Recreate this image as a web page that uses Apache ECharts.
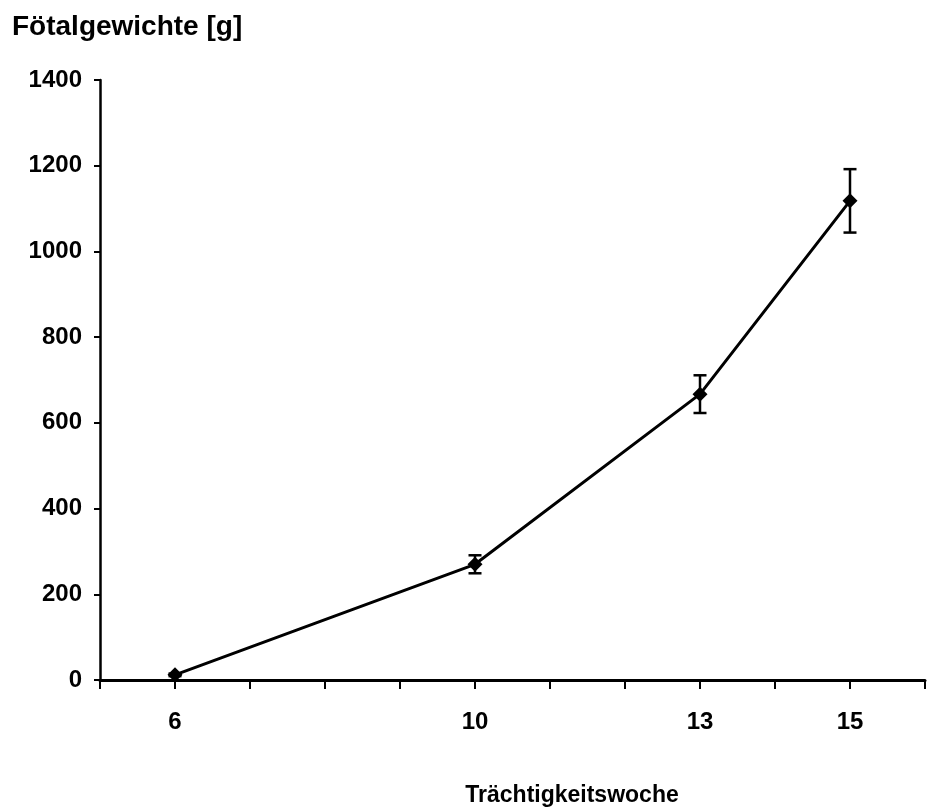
<!DOCTYPE html>
<html>
<head>
<meta charset="utf-8">
<script src="https://cdn.jsdelivr.net/npm/echarts@6/dist/echarts.min.js"></script>
<style>
  html, body { margin: 0; padding: 0; background: #fff; }
  #chart { width: 928px; height: 810px; }
</style>
</head>
<body>
<div id="chart"></div>
<script>
// Fetal weight by week of gestation (mean ± SD)
const weeks = [6, 10, 13, 15];
const meanWeight = [12, 270, 667, 1118];
const sdWeight = [3, 21, 44, 74];
const labelledWeeks = [6, 10, 13, 15];
const yTicks = [0, 200, 400, 600, 800, 1000, 1200, 1400];

const FONT = '"Liberation Sans", Arial, sans-serif';

const chart = echarts.init(document.getElementById('chart'));

const points = weeks.map((w, i) => [w, meanWeight[i]]);
const errData = weeks.map((w, i) => [w, meanWeight[i] - sdWeight[i], meanWeight[i] + sdWeight[i]]);

chart.setOption({
  animation: false,
  backgroundColor: '#ffffff',
  grid: { left: 100, right: -4, top: 80, bottom: 130, containLabel: false },
  graphic: [
    {
      type: 'text', x: 12, y: 27,
      style: {
        text: 'Fötalgewichte [g]', font: 'bold 28px ' + FONT, fill: '#000',
        textAlign: 'left', textVerticalAlign: 'middle'
      }
    },
    {
      type: 'text', x: 572, y: 796,
      style: {
        text: 'Trächtigkeitswoche', font: 'bold 23px ' + FONT, fill: '#000',
        textAlign: 'center', textVerticalAlign: 'middle'
      }
    }
  ],
  xAxis: {
    type: 'value', min: 5, max: 16, interval: 1,
    axisLine: { show: true, onZero: false, lineStyle: { color: '#000', width: 3 } },
    axisTick: { show: true, length: 9, lineStyle: { color: '#000', width: 2 } },
    splitLine: { show: false },
    axisLabel: {
      margin: 30, color: '#000', fontFamily: FONT, fontWeight: 'bold', fontSize: 24,
      showMinLabel: true, showMaxLabel: true,
      formatter: v => labelledWeeks.includes(v) ? String(v) : ''
    }
  },
  yAxis: {
    type: 'value', min: yTicks[0], max: yTicks[yTicks.length - 1], interval: 200,
    axisLine: { show: true, lineStyle: { color: '#000', width: 2.5 } },
    axisTick: { show: true, length: 6, lineStyle: { color: '#000', width: 2 } },
    splitLine: { show: false },
    axisLabel: {
      margin: 18, color: '#000', fontFamily: FONT, fontWeight: 'bold', fontSize: 24,
      formatter: v => String(v)
    }
  },
  series: [
    {
      type: 'custom',
      data: errData,
      z: 3,
      renderItem: (params, api) => {
        const x = api.value(0);
        const lo = api.coord([x, api.value(1)]);
        const hi = api.coord([x, api.value(2)]);
        const hw = 6.5;
        const style = { stroke: '#000', lineWidth: 2.5 };
        return {
          type: 'group',
          children: [
            { type: 'line', shape: { x1: lo[0], y1: lo[1], x2: hi[0], y2: hi[1] }, style },
            { type: 'line', shape: { x1: hi[0] - hw, y1: hi[1], x2: hi[0] + hw, y2: hi[1] }, style },
            { type: 'line', shape: { x1: lo[0] - hw, y1: lo[1], x2: lo[0] + hw, y2: lo[1] }, style }
          ]
        };
      }
    },
    {
      type: 'line',
      data: points,
      z: 4,
      symbol: 'diamond',
      symbolSize: 15,
      showAllSymbol: true,
      lineStyle: { color: '#000', width: 3 },
      itemStyle: { color: '#000' }
    }
  ]
});
</script>
</body>
</html>
